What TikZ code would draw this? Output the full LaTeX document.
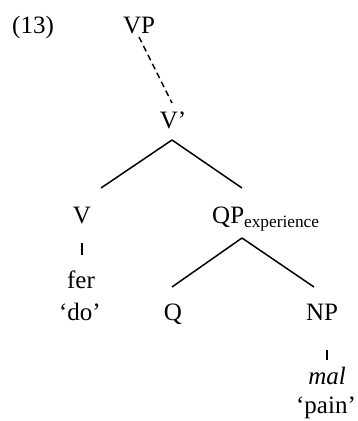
\documentclass[tikz,border=0pt]{standalone}
\usepackage{fontspec}
\setmainfont{Liberation Serif}
\usetikzlibrary{positioning}

\begin{document}
\begin{tikzpicture}[
    x=1pt, y=-1pt,
    lbl/.style={font=\fontsize{25}{30}\selectfont, inner sep=0pt, anchor=base},
    branch/.style={line width=1.5pt},
    dotted branch/.style={branch, dash pattern=on 6pt off 4pt}
]
\useasboundingbox (0,0) rectangle (357,421);

% example number and nodes of the tree
\node[lbl, anchor=base west] (num) at (12,33) {(13)};
\node[lbl] (vp) at (139,33) {VP};
\node[lbl] (vbar) at (173,128) {V'};
\node[lbl] (v) at (82,223) {V};
\node[lbl, anchor=base west] (qp) at (212,223) {QP\raisebox{-4pt}{\fontsize{17.3}{20}\selectfont experience}};
\node[lbl] (fer) at (81,288) {fer};
\node[lbl] (do) at (80,320) {`do'};
\node[lbl] (q) at (173,320) {Q};
\node[lbl] (np) at (322,320) {NP};
\node[lbl] (mal) at (327,384) {\itshape mal};
\node[lbl] (pain) at (326,413) {`pain'};

% where the branches end
\coordinate (vbar-top) at (172,103);
\coordinate (v-top) at (101,188);
\coordinate (qp-top) at (242,188);
\coordinate (qp-foot) at (242,238);
\coordinate (q-top) at (172,287);
\coordinate (np-top) at (314,287);

\draw[dotted branch] ([yshift=-4pt]vp.base) -- (vbar-top);
\draw[branch] ([xshift=-1pt,yshift=-12pt]vbar.base) -- (v-top);
\draw[branch] ([xshift=-1pt,yshift=-12pt]vbar.base) -- (qp-top);
\draw[branch] ([yshift=-20pt]v.base) -- ([yshift=-32pt]v.base);
\draw[branch] (qp-foot) -- (q-top);
\draw[branch] (qp-foot) -- (np-top);
\draw[branch] ([xshift=5pt,yshift=-30pt]np.base) -- ([xshift=5pt,yshift=-40pt]np.base);
\end{tikzpicture}
\end{document}
